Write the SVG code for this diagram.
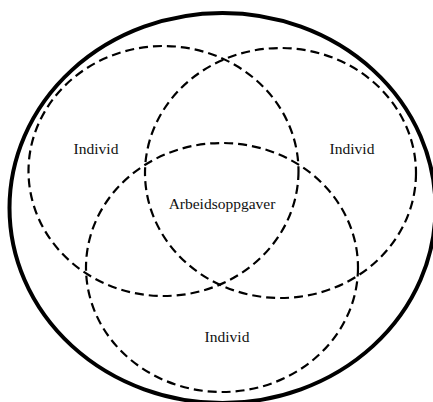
<svg xmlns="http://www.w3.org/2000/svg" width="433" height="402" viewBox="0 0 433 402">
<style>
.outer{fill:none;stroke:#000;stroke-width:4}
.set{fill:none;stroke:#000;stroke-width:2.2;stroke-dasharray:9 5}
.lbl{font-family:"Liberation Serif","Times New Roman",serif;font-size:15.5px;fill:#111;text-anchor:middle}
</style>
<rect width="433" height="402" fill="#fff"/>
<g id="outer"><ellipse class="outer" cx="222.5" cy="208" rx="213" ry="195"/></g>
<g id="connectors"></g>
<g id="left"><ellipse class="set" cx="163.5" cy="171" rx="135" ry="125"/><text class="lbl" x="96" y="154">Individ</text></g>
<g id="right"><ellipse class="set" cx="280.5" cy="173" rx="135.5" ry="125"/><text class="lbl" x="352" y="154">Individ</text></g>
<g id="bottom"><ellipse class="set" cx="222" cy="267.5" rx="136" ry="124.5"/><text class="lbl" x="227" y="341.5">Individ</text></g>
<g id="center"><text class="lbl" x="222" y="209">Arbeidsoppgaver</text></g>
</svg>
